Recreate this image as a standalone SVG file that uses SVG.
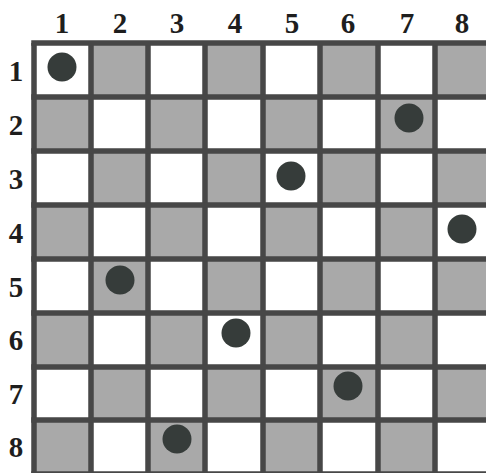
<svg xmlns="http://www.w3.org/2000/svg" width="486" height="473" viewBox="0 0 486 473">
<style>
.g{fill:#a9a9a9}
.ln{stroke:#474747;stroke-width:5.5;fill:none}
.lb{font-family:"Liberation Serif",serif;font-weight:bold;font-size:29px;fill:#1e1e1e;text-anchor:middle}
.q{fill:#363c3a}
</style>
<rect width="486" height="473" fill="#fff"/>
<g id="squares">
<rect class="g" x="91" y="43" width="57" height="54"/>
<rect class="g" x="205" y="43" width="58" height="54"/>
<rect class="g" x="320" y="43" width="58" height="54"/>
<rect class="g" x="435" y="43" width="57" height="54"/>
<rect class="g" x="34" y="97" width="57" height="54"/>
<rect class="g" x="148" y="97" width="57" height="54"/>
<rect class="g" x="263" y="97" width="57" height="54"/>
<rect class="g" x="378" y="97" width="57" height="54"/>
<rect class="g" x="91" y="151" width="57" height="54"/>
<rect class="g" x="205" y="151" width="58" height="54"/>
<rect class="g" x="320" y="151" width="58" height="54"/>
<rect class="g" x="435" y="151" width="57" height="54"/>
<rect class="g" x="34" y="205" width="57" height="54"/>
<rect class="g" x="148" y="205" width="57" height="54"/>
<rect class="g" x="263" y="205" width="57" height="54"/>
<rect class="g" x="378" y="205" width="57" height="54"/>
<rect class="g" x="91" y="259" width="57" height="54"/>
<rect class="g" x="205" y="259" width="58" height="54"/>
<rect class="g" x="320" y="259" width="58" height="54"/>
<rect class="g" x="435" y="259" width="57" height="54"/>
<rect class="g" x="34" y="313" width="57" height="54"/>
<rect class="g" x="148" y="313" width="57" height="54"/>
<rect class="g" x="263" y="313" width="57" height="54"/>
<rect class="g" x="378" y="313" width="57" height="54"/>
<rect class="g" x="91" y="367" width="57" height="53"/>
<rect class="g" x="205" y="367" width="58" height="53"/>
<rect class="g" x="320" y="367" width="58" height="53"/>
<rect class="g" x="435" y="367" width="57" height="53"/>
<rect class="g" x="34" y="420" width="57" height="54"/>
<rect class="g" x="148" y="420" width="57" height="54"/>
<rect class="g" x="263" y="420" width="57" height="54"/>
<rect class="g" x="378" y="420" width="57" height="54"/>
</g>
<g id="grid">
<path class="ln" d="M34 43V476M91 43V476M148 43V476M205 43V476M263 43V476M320 43V476M378 43V476M435 43V476M492 43V476"/>
<path class="ln" d="M31.25 43H490M31.25 97H490M31.25 151H490M31.25 205H490M31.25 259H490M31.25 313H490M31.25 367H490M31.25 420H490M31.25 474H490"/>
</g>
<g id="col-labels">
<text class="lb" x="62" y="33">1</text>
<text class="lb" x="120" y="33">2</text>
<text class="lb" x="177" y="33">3</text>
<text class="lb" x="235" y="33">4</text>
<text class="lb" x="292" y="33">5</text>
<text class="lb" x="348" y="33">6</text>
<text class="lb" x="407" y="33">7</text>
<text class="lb" x="462" y="33">8</text>
</g>
<g id="row-labels">
<text class="lb" x="16" y="81">1</text>
<text class="lb" x="16" y="135">2</text>
<text class="lb" x="16" y="189">3</text>
<text class="lb" x="16" y="243">4</text>
<text class="lb" x="16" y="297">5</text>
<text class="lb" x="16" y="350">6</text>
<text class="lb" x="16" y="404">7</text>
<text class="lb" x="16" y="457">8</text>
</g>
<g id="queens">
<circle class="q" cx="62" cy="67" r="14.5"/>
<circle class="q" cx="409" cy="118" r="14.5"/>
<circle class="q" cx="291" cy="176" r="14.5"/>
<circle class="q" cx="462" cy="229" r="14.5"/>
<circle class="q" cx="120" cy="280" r="14.5"/>
<circle class="q" cx="236" cy="333" r="14.5"/>
<circle class="q" cx="348" cy="386" r="14.5"/>
<circle class="q" cx="177" cy="439" r="14.5"/>
</g>
</svg>
